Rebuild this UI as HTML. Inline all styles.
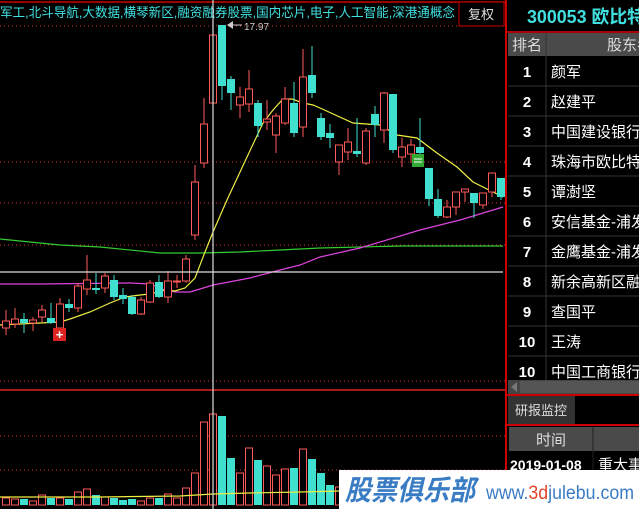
<!DOCTYPE html>
<html><head><meta charset="utf-8"><style>
html,body{margin:0;padding:0;background:#000;width:639px;height:509px;overflow:hidden}
svg{display:block}
text{font-family:"Liberation Sans","Noto Sans CJK SC",sans-serif}
</style></head><body>
<svg id="s" width="639" height="509" viewBox="0 0 639 509" xmlns="http://www.w3.org/2000/svg">
<rect width="639" height="509" fill="#000"/>
<line x1="0" y1="2" x2="505" y2="2" stroke="#c00" stroke-width="1.5"/>
<text x="0" y="17" font-size="13" fill="#40e0e0" textLength="455" lengthAdjust="spacingAndGlyphs">军工,北斗导航,大数据,横琴新区,融资融券股票,国内芯片,电子,人工智能,深港通概念</text>
<rect x="459" y="2" width="45" height="24" fill="#000" stroke="#c00"/>
<text x="481" y="19" font-size="13" fill="#ddd" text-anchor="middle">复权</text>
<g stroke="#c33" stroke-dasharray="1,3" stroke-width="1">
<line x1="0" y1="26" x2="459" y2="26"/><line x1="0" y1="162" x2="505" y2="162"/>
<line x1="0" y1="203" x2="505" y2="203"/><line x1="0" y1="245" x2="505" y2="245"/>
<line x1="0" y1="381" x2="505" y2="381"/><line x1="0" y1="436" x2="505" y2="436"/>
<line x1="0" y1="470" x2="505" y2="470"/>
</g>
<line x1="0" y1="390" x2="505" y2="390" stroke="#d22" stroke-width="1.5"/>
<polyline fill="none" stroke="#3c3" stroke-width="1.2" points="0,239 30,242 60,245 100,247 160,253 200,253 240,252 280,250 320,248 400,246 503,246"/>
<polyline fill="none" stroke="#d4d" stroke-width="1.2" points="0,284 40,284 130,283 150,284 165,290 175,292 190,292 200,289 213,285 250,278 280,270 300,265 320,257 360,248 420,230 460,220 503,207"/>
<polyline fill="none" stroke="#ee4" stroke-width="1.2" points="0,325 60,322 70,319 90,312 110,303 125,297 140,295 150,294 165,290 175,291 185,288 195,278 205,252 213,232 227,200 247,157 263,123 273,110 283,99 292,99 303,103 313,105 320,108 353,123 380,125 397,135 417,138 437,153 457,167 473,182 503,197"/>
<g id="c"></g>
<g id="v"></g>
<polyline fill="none" stroke="#ee4" stroke-width="1.2" points="0,497 100,497 180,496 213,494 250,493 300,492 340,491 420,489 503,487"/>
<line x1="0" y1="272" x2="503" y2="272" stroke="#ddd" stroke-width="1.2"/>
<line x1="213" y1="0" x2="213" y2="509" stroke="#ddd" stroke-width="1.2"/>
<polygon points="227,25 233,21 233,29" fill="#ccc"/>
<line x1="233" y1="25" x2="242" y2="25" stroke="#ccc"/>
<text x="244" y="30" font-size="10" fill="#ccc" font-family="Liberation Mono">17.97</text>
<rect x="53" y="328" width="13" height="13" fill="#d22"/>
<text x="59.5" y="339" font-size="13" font-weight="bold" fill="#fff" text-anchor="middle">+</text>
<rect x="412" y="154" width="12" height="13" fill="#3a3"/>
<line x1="414" y1="159" x2="422" y2="159" stroke="#fff"/><line x1="414" y1="162" x2="422" y2="162" stroke="#fff"/>
<!-- right panel -->
<rect x="506" y="0" width="133" height="509" fill="#000"/>
<line x1="506" y1="0" x2="506" y2="509" stroke="#c00" stroke-width="2"/>
<text x="527" y="23" font-size="18" font-weight="bold" fill="#40e0e0" textLength="118" lengthAdjust="spacingAndGlyphs">300053 欧比特</text>
<line x1="507" y1="32" x2="639" y2="32" stroke="#a00" stroke-width="2"/>
<rect x="508" y="33" width="131" height="23" fill="#4a4a4a"/>
<line x1="546" y1="33" x2="546" y2="380" stroke="#333"/>
<text x="527" y="50" font-size="15" fill="#ddd" text-anchor="middle">排名</text>
<text x="607" y="50" font-size="15" fill="#ddd">股东名</text>
<g id="r"></g>
<rect x="508" y="380" width="131" height="14" fill="#444"/>
<polygon points="511,387 517,382 517,392" fill="#777"/>
<rect x="520" y="381" width="119" height="12" fill="#555"/>
<line x1="507" y1="395" x2="639" y2="395" stroke="#c00" stroke-width="2"/>
<rect x="508" y="396" width="67" height="28" fill="#333"/>
<text x="541" y="415" font-size="13" fill="#ddd" text-anchor="middle">研报监控</text>
<line x1="507" y1="425" x2="639" y2="425" stroke="#c00" stroke-width="2"/>
<rect x="509" y="427" width="130" height="24" fill="#4a4a4a"/>
<line x1="593" y1="427" x2="593" y2="470" stroke="#222"/>
<text x="551" y="445" font-size="15" fill="#ddd" text-anchor="middle">时间</text>
<text x="510" y="470" font-size="14" font-weight="bold" fill="#fff">2019-01-08</text>
<text x="598" y="470" font-size="15" fill="#fff">重大事</text>
<!-- watermark -->
<rect x="339" y="470" width="300" height="39" fill="#fff"/>
<text x="345" y="500" font-size="28" font-weight="bold" font-style="italic" fill="#3a7cc4" textLength="130" lengthAdjust="spacingAndGlyphs">股票俱乐部</text>
<text x="486" y="499" font-size="19" fill="#3a7cc4" textLength="148" lengthAdjust="spacingAndGlyphs">www.<tspan fill="#e2452a">3d</tspan>julebu.com</text>
</svg>
<script>
var NS="http://www.w3.org/2000/svg";
function el(p,t,a){var e=document.createElementNS(NS,t);for(var k in a)e.setAttribute(k,a[k]);p.appendChild(e);return e;}
var C=[['r',321,328,310,335],['r',319,324,308,328],['c',319,323,313,333],['r',320,323,317,331],['r',310,317,305,322],['c',318,323,303,324],['r',304,328,298,330],['c',304,308,299,312],['r',286,308,283,312],['r',280,289,255,295],['c',288,290,273,294],['r',276,288,273,293],['c',280,297,275,300],['c',295,299,288,304],['c',297,314,295,315],['r',300,314,297,315],['r',283,302,280,303],['c',282,297,275,298],['r',281,297,271,303],['r',281,282,275,288],['r',259,281,255,283],['r',182,235,165,240],['r',124,163,98,168],['r',35,103,35,105],['c',25,86,25,100],['c',79,93,76,110],['r',97,105,87,118],['r',89,104,70,112],['c',103,126,100,137],['r',119,122,100,130],['r',116,135,113,153],['r',99,123,87,125],['c',103,133,82,137],['r',77,127,49,137],['c',75,93,46,98],['c',118,137,113,140],['c',133,138,124,148],['r',145,162,145,175],['r',142,152,128,160],['c',151,154,118,157],['r',131,163,128,165],['c',114,125,106,137],['r',93,130,92,143],['c',94,150,94,153],['r',147,157,138,167],['r',145,154,139,163],['c',147,153,118,154],['c',168,199,168,206],['c',199,216,189,218],['r',207,217,200,218],['r',192,207,192,215],['r',189,192,189,202],['c',193,203,193,218],['r',193,205,193,209],['r',173,192,176,197],['c',178,197,178,200]];
var g=document.getElementById('c');
C.forEach(function(d,i){var x=6+9*i;var col=d[0]=='r'?'#ff5a5a':'#40e0d0';
el(g,'line',{x1:x,y1:d[3],x2:x,y2:d[4],stroke:col,'stroke-width':1});
var h=Math.max(1,d[2]-d[1]);
if(d[0]=='r'){el(g,'rect',{x:x-3.5,y:d[1],width:7,height:h,fill:'#000',stroke:col,'stroke-width':1});}
else el(g,'rect',{x:x-4,y:d[1],width:8,height:h,fill:col});});
var V=[['r',498],['r',499],['c',499],['r',501],['r',495],['c',498],['r',498],['c',499],['r',492],['r',489],['c',495],['r',497],['c',498],['c',500],['c',499],['r',501],['r',498],['c',498],['r',494],['r',498],['r',488],['r',473],['r',422],['r',414],['c',416],['c',458],['r',473],['r',448],['c',460],['r',466],['r',475],['r',469],['c',468],['r',449],['c',459],['c',473],['c',485],['r',487],['r',480],['c',478],['r',482],['c',476],['r',474],['c',476],['r',484],['r',486],['c',482],['c',476],['c',478],['r',486],['r',484],['r',490],['c',486],['r',486],['r',480],['c',482]];
var gv=document.getElementById('v');
V.forEach(function(d,i){var x=6+9*i;var col=d[0]=='r'?'#ff5a5a':'#40e0d0';var h=505-d[1];
if(d[0]=='r')el(gv,'rect',{x:x-3.5,y:d[1],width:7,height:h,fill:'#000',stroke:col});
else el(gv,'rect',{x:x-4,y:d[1],width:8,height:h,fill:col});});
var R=[['1','颜军'],['2','赵建平'],['3','中国建设银行'],['4','珠海市欧比特'],['5','谭澍坚'],['6','安信基金-浦发'],['7','金鹰基金-浦发'],['8','新余高新区融'],['9','查国平'],['10','王涛'],['10','中国工商银行']];
var gr=document.getElementById('r');
R.forEach(function(d,i){var y=56+30*i;
el(gr,'line',{x1:508,y1:y+30,x2:639,y2:y+30,stroke:'#333'});
var t=el(gr,'text',{x:527,y:y+21,'font-size':15,'font-weight':'bold',fill:'#fff','text-anchor':'middle'});t.textContent=d[0];
var u=el(gr,'text',{x:551,y:y+21,'font-size':15,fill:'#fff'});u.textContent=d[1];});
</script>
</body></html>
